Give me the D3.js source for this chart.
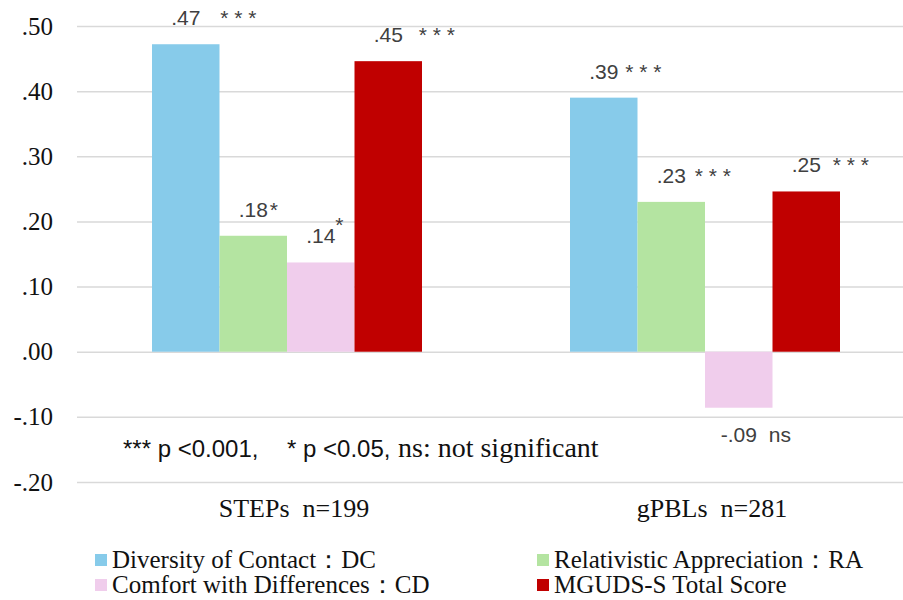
<!DOCTYPE html>
<html lang="en">
<head>
<meta charset="UTF-8">
<title>Correlation bars</title>
<style>
    body { margin: 0; background: #fff; }
</style>
<script src="https://d3js.org/d3.v7.min.js"></script>
</head>
<body>
<div id="chart"></div>
<script>
    // data
    const groups = ["STEPs  n=199", "gPBLs  n=281"];
    const series = ["Diversity of Contact\uFF1ADC", "Relativistic Appreciation\uFF1ARA",
                    "Comfort with Differences\uFF1ACD", "MGUDS-S Total Score"];
    const colors = ["#87CBEA", "#B4E4A1", "#F0CDEC", "#C00000"];
    const stepsValues = [0.472, 0.178, 0.137, 0.446];
    const gpblValues = [0.39, 0.23, -0.086, 0.246];
    const stepsSig = ["***", "*", "*", "***"];
    const gpblSig = ["***", "***", "ns", "***"];
    const yTicks = [-0.2, -0.1, 0, 0.1, 0.2, 0.3, 0.4, 0.5];
    const noteParts = ["*** p <0.001,", "* p <0.05,", "ns: not significant"];

    // star placement tweaks (hand placed in the original)
    const starDx = [[20, 2, 0, 16], [7, 9, 12, 12]];
    const starDy = [[0, 0, -11, 0], [0, 0, 0, 0]];

    const SERIF = "'Liberation Serif', 'Times New Roman', serif";
    const SANS = "'Liberation Sans', Arial, sans-serif";

    const width = 903, height = 600;
    const svg = d3.select("#chart").append("svg")
        .attr("width", width)
        .attr("height", height);

    const y = d3.scaleLinear().domain([-0.2, 0.5]).range([482, 26]);
    const x0 = d3.scalePoint().domain(groups).range([78, 914]).padding(0.5);
    const x1 = d3.scaleBand().domain(series).range([-135, 135]);

    const locale = d3.formatLocale({ decimal: ".", thousands: ",", grouping: [3], currency: ["", ""], minus: "-" });
    const fmt = v => locale.format(".2f")(v).replace("0.", ".");

    // gridlines + y labels
    const axis = svg.append("g")
        .attr("transform", "translate(77,0)")
        .call(d3.axisLeft(y).tickValues(yTicks).tickSize(-840).tickPadding(24).tickFormat(fmt));
    axis.select(".domain").remove();
    axis.selectAll(".tick line").attr("stroke", "#d9d9d9").attr("stroke-width", 1.5);
    axis.selectAll(".tick text")
        .style("font-family", SERIF)
        .style("font-size", "25px")
        .attr("fill", "#111");

    const rows = [stepsValues, gpblValues];
    const sigs = [stepsSig, gpblSig];
    const data = [];
    groups.forEach((g, gi) => {
        series.forEach((s, si) => {
            data.push({ g, s, gi, si, v: rows[gi][si], sig: sigs[gi][si] });
        });
    });

    svg.append("g").selectAll("rect")
        .data(data)
        .join("rect")
        .attr("x", d => x0(d.g) + x1(d.s))
        .attr("y", d => y(Math.max(0, d.v)))
        .attr("width", x1.bandwidth())
        .attr("height", d => Math.abs(y(d.v) - y(0)))
        .attr("fill", d => colors[d.si]);

    // value labels and significance marks
    const labels = svg.append("g");
    data.forEach(d => {
        const cx = x0(d.g) + x1(d.s) + x1.bandwidth() / 2;
        const by = d.v >= 0 ? y(d.v) - 19 : y(d.v) + 34;
        const t = labels.append("text")
            .style("font-family", SANS).style("font-size", "21px")
            .attr("fill", "#404040")
            .attr("x", cx)
            .attr("y", by)
            .attr("text-anchor", "middle")
            .text(fmt(d.v));
        const end = cx + t.node().getComputedTextLength() / 2;
        labels.append("text")
            .style("font-family", SANS).style("font-size", "21px")
            .attr("fill", "#404040")
            .attr("x", end + starDx[d.gi][d.si])
            .attr("y", by + starDy[d.gi][d.si])
            .text(d.sig === "***" ? "* * *" : d.sig);
    });

    // note
    const noteX = [123, 287, 398];
    const nt = svg.append("text").attr("y", 457).attr("fill", "#111");
    noteParts.forEach((p, i) => {
        nt.append("tspan")
            .attr("x", noteX[i])
            .style("font-family", i < 2 ? SANS : SERIF)
            .style("font-size", i < 2 ? "24px" : "28px")
            .text(p);
    });

    // category labels
    svg.append("g").selectAll("text")
        .data(groups)
        .join("text")
        .style("font-family", SERIF)
        .style("font-size", "26px")
        .style("white-space", "pre")
        .attr("fill", "#111")
        .attr("x", d => x0(d) + 7)
        .attr("y", 517)
        .attr("text-anchor", "middle")
        .text(d => d);

    // legend
    const legendX = [95, 537];
    const legendY = [560, 585];
    const legend = svg.append("g");
    series.forEach((s, i) => {
        const lx = legendX[i % 2], ly = legendY[Math.floor(i / 2)];
        legend.append("rect")
            .attr("x", lx).attr("y", ly - 6)
            .attr("width", 12).attr("height", 12)
            .attr("fill", colors[i]);
        legend.append("text")
            .style("font-family", SERIF)
            .style("font-size", "25px")
            .attr("fill", "#111")
            .attr("x", lx + 17).attr("y", ly + 8)
            .text(s);
    });
</script>
</body>
</html>
